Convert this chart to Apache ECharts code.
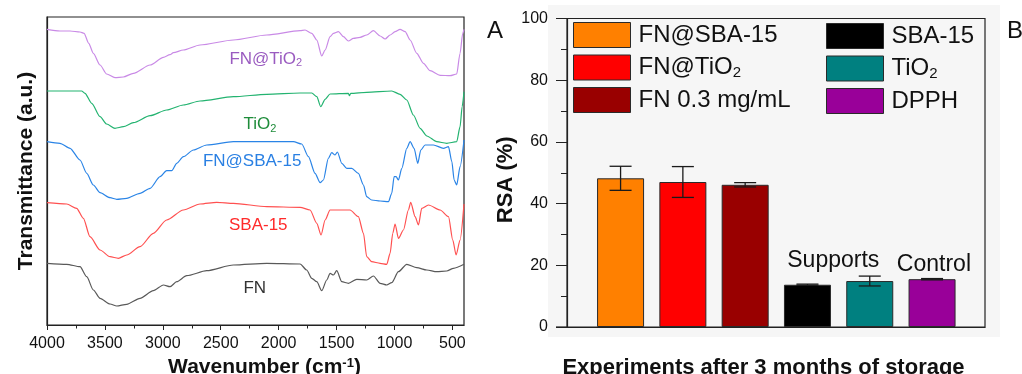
<!DOCTYPE html>
<html><head><meta charset="utf-8">
<script src="https://cdn.jsdelivr.net/npm/echarts@6/dist/echarts.min.js"></script>
<style>html,body{margin:0;padding:0;background:#fff}#c{width:1022px;height:374px}</style>
</head><body><div id="c"></div>
<script>
// ================= Panel A: FTIR spectra (wavenumber, transmittance a.u.) =================
const wnTicks = [4000, 3500, 3000, 2500, 2000, 1500, 1000, 500];

const fnTiO2_wn = [4000,3888,3801,3715,3680,3640,3600,3542,3485,3413,3341,3254,3110,2995,2938,2909,2823,2679,2391,2103,1815,1772,1714,1671,1628,1599,1556,1527,1484,1441,1398,1355,1297,1240,1182,1124,1081,1038,995,952,908,865,808,750,693,606,520,463,434,411,400];
const fnTiO2_T  = [295.7,294,294,293,291.7,281.7,271.7,260,251,247.3,248,251.7,260,267.7,270.3,272.3,275,280,285,290,294.3,295,291.7,285,269,275,288.3,291.7,293.3,288.3,284,286.7,287.7,290,294.3,289,286,290,293.3,295.7,293.3,285,271.7,261.7,254.3,249.7,249.3,251,271.7,291.7,295.7];

const tiO2_wn = [4000,3830,3701,3672,3614,3542,3485,3413,3341,3254,3110,2967,2823,2679,2391,2103,1815,1714,1671,1637,1599,1556,1398,1389,1378,1240,1024,952,894,837,779,721,635,549,463,434,416,400];
const tiO2_T  = [234,234,234,231.7,221.7,208.3,201,196.7,198.3,202.3,209.3,215,220,224,228.3,230.7,232,232,228.3,218.3,225.7,231,231.7,229.3,231.7,232.7,234,230.7,225,210,196.7,189,183.3,181.7,183.3,198.3,218.3,233.3];

const fnSBA_wn = [4000,3888,3801,3715,3657,3600,3542,3456,3398,3312,3197,3110,3024,2967,2923,2880,2823,2736,2621,2391,2103,1873,1801,1743,1686,1642,1614,1571,1542,1513,1493,1455,1412,1369,1312,1268,1240,1197,1124,1052,1024,1003,986,966,937,894,865,831,799,773,736,664,577,534,505,485,463,434,400];
const fnSBA_T  = [183.3,181.7,176.7,165,151.7,140,132.3,127.3,125.7,126.7,131.7,136.7,148.3,154.3,154.3,161.7,168.3,175,180,183.3,183.3,183.3,181,168.3,151.7,142.3,145,166.7,172.3,170,173,161.7,156.7,156.7,151.7,140,128.3,125,124,123.3,131.7,148.3,148.3,145,156.7,176.7,183.3,176.7,161.7,175,180,180,176.7,178.3,163.3,145,140,158.3,185];

const sba_wn = [4000,3830,3744,3686,3629,3542,3456,3384,3312,3197,3082,2967,2823,2679,2535,2391,2103,1815,1729,1671,1634,1599,1556,1384,1312,1268,1240,1197,1124,1067,1038,1015,995,966,923,880,860,822,793,765,707,606,534,497,468,434,400];
const sba_T  = [122.3,121,116.7,106.7,88.3,75,68.3,66.7,70,78.3,91.7,105,115,121,122.7,121.7,118.3,117.7,115,101.7,90,105,115,115,108.3,91.7,68.3,63.3,61.7,60.7,71.7,91.7,101,86.7,95,115,122.7,108.3,100,116.7,120,115,108.3,85,70,85,121];

const fn_wn = [4000,3830,3715,3657,3600,3542,3456,3398,3312,3197,3082,2995,2938,2880,2794,2621,2391,2103,1815,1758,1714,1671,1628,1585,1556,1527,1499,1455,1398,1326,1240,1182,1124,1067,1024,966,894,808,721,635,549,491,400];
const fn_T  = [61.7,60.7,58.3,48.3,35,26.7,21,19,20.7,26.7,34.3,40,38.3,43.3,49.3,54.3,60,61.7,61,55,46.7,43.3,34.3,45,51.7,50,54.3,43.3,41.7,45.7,45,49,41.7,40,42.3,53.3,60.7,57.3,55,53.3,54,56.7,60.7];

const spectraNames = ['FN@TiO2', 'TiO2', 'FN@SBA-15', 'SBA-15', 'FN'];

// ================= Panel B: RSA bars =================
const barNames = ['FN@SBA-15', 'FN@TiO2', 'FN 0.3 mg/mL', 'SBA-15', 'TiO2', 'DPPH'];
const rsaMean  = [48.2, 47.0, 46.1, 13.7, 14.9, 15.5];
const rsaErr   = [3.9, 5.0, 0.7, 0.2, 1.6, 0.2];

// ================= styles / layout =================
const FONT = "'Liberation Sans', Arial, Helvetica, sans-serif";
const AX = '#222';
const lineColors = ['#C98AE6', '#23B370', '#2A84E6', '#FF5050', '#595959'];
const labelColors = ['#9A5BC0', '#1E8C3A', '#2A80E3', '#FF2A2A', '#333333'];
const labelPos = [[2111, 266], [2161, 200.3], [2229, 163.7], [2176, 99.3], [2206, 37]];
const barColors = ['#FF8000', '#FF0000', '#990000', '#000000', '#008080', '#990099'];
const barBorder = '#2a2a2a';

function subFmt(n) { return n.replace(/O2$/, 'O{sub|2}'); }

const zip = (a, b) => a.map((v, i) => [v, b[i]]);
const spectra = [[fnTiO2_wn, fnTiO2_T], [tiO2_wn, tiO2_T], [fnSBA_wn, fnSBA_T], [sba_wn, sba_T], [fn_wn, fn_T]];

const series = [];
spectra.forEach((s, i) => {
  series.push({
    type: 'line', name: spectraNames[i], xAxisIndex: 0, yAxisIndex: 0,
    data: zip(s[0], s[1]), showSymbol: false, smooth: 0.25, smoothMonotone: 'x', silent: true,
    color: lineColors[i],
    lineStyle: { color: lineColors[i], width: 1.2 },
    markPoint: {
      symbol: 'circle', symbolSize: 0, silent: true,
      data: [{ coord: labelPos[i] }],
      label: {
        show: true, position: 'inside', color: labelColors[i], fontSize: 17, fontFamily: FONT,
        formatter: () => subFmt(spectraNames[i]),
        rich: { sub: { fontSize: 11, color: labelColors[i], fontFamily: FONT, verticalAlign: 'bottom', padding: [8, 0, 0, 0] } }
      }
    }
  });
});

const annot = { 3: ['Supports', [4.415, 21.6]], 5: ['Control', [6.03, 20.3]] };
barNames.forEach((n, i) => {
  const s = {
    type: 'bar', name: n, xAxisIndex: 2, yAxisIndex: 1, color: barColors[i],
    data: [[i + 1, rsaMean[i]]], barWidth: 47, barGap: '-100%',
    itemStyle: { color: barColors[i], borderColor: barBorder, borderWidth: 1 }, silent: true
  };
  if (annot[i]) {
    s.markPoint = {
      symbol: 'circle', symbolSize: 0, silent: true,
      data: [{ coord: annot[i][1] }],
      label: { show: true, position: 'inside', formatter: annot[i][0], fontSize: 23, color: '#111', fontFamily: FONT }
    };
  }
  series.push(s);
});

series.push({
  type: 'custom', xAxisIndex: 2, yAxisIndex: 1, z: 5, silent: true,
  data: rsaMean.map((m, i) => [i + 1, m, rsaErr[i]]),
  encode: { x: 0, y: 1 },
  renderItem(params, api) {
    const x = api.value(0), m = api.value(1), e = api.value(2);
    const t = api.coord([x, m + e]), b = api.coord([x, m - e]);
    const hw = 11, st = { stroke: '#1a1a1a', lineWidth: 1.3 };
    return { type: 'group', children: [
      { type: 'line', shape: { x1: t[0], y1: t[1], x2: b[0], y2: b[1] }, style: st },
      { type: 'line', shape: { x1: t[0] - hw, y1: t[1], x2: t[0] + hw, y2: t[1] }, style: st },
      { type: 'line', shape: { x1: b[0] - hw, y1: b[1], x2: b[0] + hw, y2: b[1] }, style: st }
    ] };
  }
});

function legendData(from, to) {
  return barNames.slice(from, to).map((n, k) => ({
    name: n, icon: 'rect',
    itemStyle: { color: barColors[from + k], borderColor: barBorder, borderWidth: 1 }
  }));
}

const legendCommon = {
  orient: 'vertical', icon: 'rect', itemWidth: 57, itemHeight: 25, itemGap: 6.5, selectedMode: false,
  padding: 0,
  formatter: subFmt,
  textStyle: {
    fontSize: 24, color: '#111', fontFamily: FONT, lineHeight: 25, padding: [0, 0, 0, 3],
    rich: { sub: { fontSize: 15, color: '#111', fontFamily: FONT, verticalAlign: 'bottom', lineHeight: 25, padding: [10, 0, 0, 0] } }
  }
};

const minorWn = wnTicks.slice(0, -1).map(v => v - 250);

const option = {
  animation: false,
  backgroundColor: '#ffffff',
  textStyle: { fontFamily: FONT },
  grid: [
    { left: 47, top: 17, width: 417, height: 308, show: true, borderColor: AX, borderWidth: 1.2, backgroundColor: 'transparent', containLabel: false, outerBoundsMode: 'none' },
    { left: 567, top: 18.5, width: 418, height: 308.5, show: true, borderColor: AX, borderWidth: 1.2, backgroundColor: 'transparent', containLabel: false, outerBoundsMode: 'none' }
  ],
  xAxis: [
    { gridIndex: 0, type: 'value', min: 400, max: 4000, inverse: true, position: 'bottom',
      axisLine: { lineStyle: { color: AX, width: 1.2 } },
      axisTick: { customValues: wnTicks, length: 5, lineStyle: { color: AX } },
      axisLabel: { customValues: wnTicks, fontSize: 16, color: '#111', margin: 11, fontFamily: FONT, formatter: v => String(v) },
      splitLine: { show: false },
      name: 'Wavenumber (cm{sup|-1})', nameLocation: 'middle', nameGap: 32,
      nameTextStyle: { fontSize: 21, fontWeight: 'bold', color: '#111', fontFamily: FONT, padding: [0, 0, 0, 18],
        rich: { sup: { fontSize: 13, fontWeight: 'bold', color: '#111', fontFamily: FONT, verticalAlign: 'top', padding: [0, 0, 8, 0] } } } },
    { gridIndex: 0, type: 'value', min: 400, max: 4000, inverse: true, position: 'bottom',
      axisLine: { show: false },
      axisTick: { customValues: minorWn, length: 3.5, lineStyle: { color: AX } },
      axisLabel: { show: false }, splitLine: { show: false } },
    { gridIndex: 1, type: 'value', min: 0.14, max: 6.85,
      axisLine: { lineStyle: { color: AX, width: 1.2 } }, axisTick: { show: false }, axisLabel: { show: false },
      splitLine: { show: false },
      name: 'Experiments after 3 months of storage', nameLocation: 'middle', nameGap: 30,
      nameTextStyle: { fontSize: 22, fontWeight: 'bold', color: '#111', fontFamily: FONT, padding: [0, 25, 0, 0] } }
  ],
  yAxis: [
    { gridIndex: 0, type: 'value', min: 0, max: 308,
      axisLine: { show: true, lineStyle: { color: AX, width: 1.2 } }, axisTick: { show: false }, axisLabel: { show: false },
      splitLine: { show: false },
      name: 'Transmittance (a.u.)', nameLocation: 'middle', nameGap: 10,
      nameTextStyle: { fontSize: 21, fontWeight: 'bold', color: '#111', fontFamily: FONT } },
    { gridIndex: 1, type: 'value', min: 0, max: 100, interval: 20,
      axisLine: { show: true, lineStyle: { color: AX, width: 1.2 } },
      axisTick: { length: 11, lineStyle: { color: AX } },
      minorTick: { show: true, splitNumber: 2, length: 6, lineStyle: { color: AX } },
      axisLabel: { fontSize: 16, color: '#111', margin: 19, fontFamily: FONT },
      splitLine: { show: false }, minorSplitLine: { show: false },
      name: 'RSA (%)', nameLocation: 'middle', nameGap: 42,
      nameTextStyle: { fontSize: 22, fontWeight: 'bold', color: '#111', fontFamily: FONT, padding: [0, 14, 0, 0] } }
  ],
  legend: [
    Object.assign({ left: 573, top: 22, data: legendData(0, 3) }, legendCommon),
    Object.assign({ left: 826, top: 23, data: legendData(3, 6) }, legendCommon)
  ],
  graphic: [
    { type: 'rect', z: -100, silent: true, shape: { x: 548, y: 5, width: 452, height: 332 }, style: { fill: '#f6f6f6' } },
    { type: 'line', silent: true, shape: { x1: 556, y1: 327, x2: 567, y2: 327 }, style: { stroke: AX, lineWidth: 1.2 } },
    { type: 'text', silent: true, x: 487, y: 31, style: { text: 'A', fontSize: 24, fontFamily: FONT, fill: '#111', verticalAlign: 'middle' } },
    { type: 'text', silent: true, x: 1007, y: 31, style: { text: 'B', fontSize: 24, fontFamily: FONT, fill: '#111', verticalAlign: 'middle' } }
  ],
  series: series
};

const chart = echarts.init(document.getElementById('c'), null, { renderer: 'canvas' });
chart.setOption(option);
</script>
</body></html>
